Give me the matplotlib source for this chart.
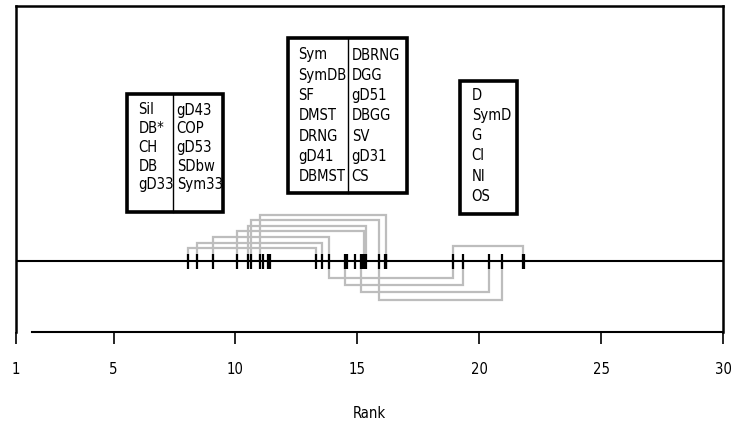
import matplotlib
matplotlib.use("Agg")
import matplotlib.pyplot as plt
from matplotlib.patches import Rectangle
from matplotlib import font_manager as fm

# pick a condensed sans if one is installed
cands = []
for f in fm.fontManager.ttflist:
    st = f.stretch if isinstance(f.stretch, (int, float)) else {
        'condensed': 300, 'semi-condensed': 400, 'normal': 500}.get(str(f.stretch), 500)
    if f.style == 'normal' and f.weight in (400, 'normal', 'regular') and st < 500:
        cands.append(f.name)
pref = ['Liberation Sans Narrow', 'DejaVu Sans Condensed', 'DejaVu Sans', 'Roboto Condensed', 'Arial Narrow']
chosen = None
stretch = 'normal'
for p in pref:
    if p in cands:
        chosen = p
        stretch = 'condensed'
        break
if chosen is None:
    chosen = 'Liberation Sans'
    fs = 10.2
else:
    fs = 11.3 if chosen != 'DejaVu Sans' and chosen != 'DejaVu Sans Condensed' else 10.6

plt.rcParams['font.family'] = [chosen, 'DejaVu Sans']
plt.rcParams['font.stretch'] = stretch

# ---- data ----
ranks = [8.07, 8.44, 9.07, 10.08, 10.50, 10.64, 11.01, 11.12, 11.32, 11.42,
         13.30, 13.56, 13.84, 14.49, 14.58, 14.90, 15.15, 15.22, 15.26, 15.34,
         15.89, 16.12, 16.16, 16.18,
         18.94, 19.35, 20.40, 20.92, 21.78, 21.82]

# brackets: (start rank, end rank)
upper_pairs = [(11.01, 16.18), (10.64, 15.89), (10.50, 15.34), (10.08, 15.26),
               (9.07, 13.84), (8.44, 13.56), (8.07, 13.30), (18.94, 21.80)]
lower_pairs = [(13.84, 18.94), (14.49, 19.35), (15.15, 20.40), (15.89, 20.92)]

box1_col1 = ["Sil", "DB*", "CH", "DB", "gD33"]
box1_col2 = ["gD43", "COP", "gD53", "SDbw", "Sym33"]
box2_col1 = ["Sym", "SymDB", "SF", "DMST", "DRNG", "gD41", "DBMST"]
box2_col2 = ["DBRNG", "DGG", "gD51", "DBGG", "SV", "gD31", "CS"]
box3_col1 = ["D", "SymD", "G", "CI", "NI", "OS"]

xticks = [1, 5, 10, 15, 20, 25, 30]

# ---- layout ----
upper_levels = [46, 41, 35.3, 30, 23.7, 18, 12.7, 15]
lower_levels = [-16.7, -24, -31.3, -38.5]

fig = plt.figure(figsize=(7.34, 4.26), dpi=100)
ax = fig.add_axes([16/734, 1 - 332/426, 707/734, 326/426])
ax.set_xlim(1, 30)
ax.set_ylim(-71, 255)

gray = '#bdbdbd'
for (a, b), lv in zip(upper_pairs, upper_levels):
    ax.plot([a, a, b, b], [0, lv, lv, 0], color=gray, lw=1.6, zorder=1,
            solid_joinstyle='miter')
for (a, b), lv in zip(lower_pairs, lower_levels):
    ax.plot([a, a, b, b], [0, lv, lv, 0], color=gray, lw=1.6, zorder=1,
            solid_joinstyle='miter')

ax.axhline(0, color='black', lw=1.5, zorder=2)
ax.vlines(ranks, -7.5, 7.5, color='black', lw=1.6, zorder=3)


def draw_box(x0, x1, y0, y1, divider=None):
    ax.add_patch(Rectangle((x0, y0), x1 - x0, y1 - y0, fill=True, facecolor='white',
                           edgecolor='black', lw=2.6, zorder=4, joinstyle='miter'))
    if divider is not None:
        ax.plot([divider, divider], [y0, y1], color='black', lw=1.0, zorder=5)

def draw_col(x, top, step, names):
    for i, n in enumerate(names):
        ax.text(x, top - i * step, n, fontsize=fs, ha='left', va='center', zorder=6)

draw_box(5.565, 9.503, 49.3, 167, divider=7.452)
draw_col(6.016, 151, 18.75, box1_col1)
draw_col(7.591, 151, 18.75, box1_col2)

draw_box(12.169, 17.025, 67.7, 222.7, divider=14.630)
draw_col(12.579, 206, 20.3, box2_col1)
draw_col(14.769, 206, 20.3, box2_col2)

draw_box(19.212, 21.538, 47, 180)
draw_col(19.692, 166, 20.3, box3_col1)

ax.set_yticks([])
ax.set_xticks(xticks)
ax.set_xticklabels([str(t) for t in xticks], fontsize=fs)
ax.tick_params(axis='x', length=8.6, width=1.2, pad=13, direction='out')
for s in ['left', 'right', 'top', 'bottom']:
    ax.spines[s].set_linewidth(1.8)
ax.spines['bottom'].set_linewidth(1.5)
ax.spines['bottom'].set_bounds(1.656, 30)
ax.set_xlabel("Rank", fontsize=fs, labelpad=21)

fig.savefig("out.png", dpi=100)
